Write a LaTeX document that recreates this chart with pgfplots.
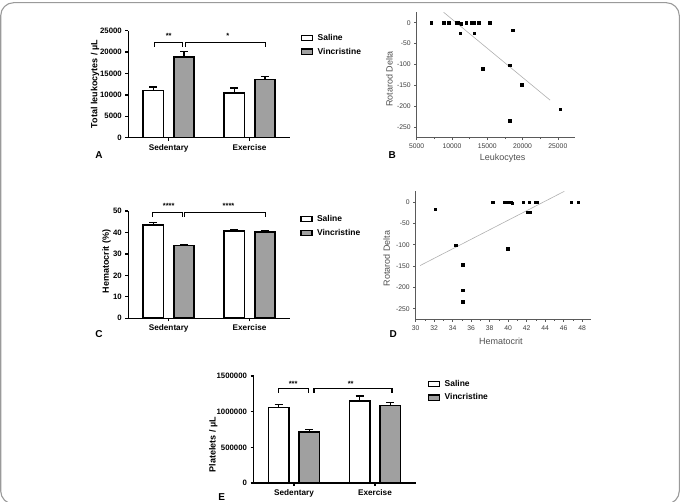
\documentclass[border=0pt]{standalone}
\usepackage{fontspec}
\setmainfont{Liberation Sans}
\usepackage{pgfplots}
\pgfplotsset{compat=1.18}
\definecolor{barfill}{HTML}{A0A0A0}
\definecolor{framecol}{HTML}{9A9A9A}
\definecolor{sctext}{HTML}{3C3C3C}
\definecolor{sclabel}{HTML}{505050}
\definecolor{scaxis}{HTML}{5A5A5A}
\definecolor{regline}{HTML}{B0B0B0}
\tikzset{
  brk/.style={line width=1.2pt, black},
  sig/.style={font=\bfseries\fontsize{7.5}{8}\selectfont},
}
\pgfplotsset{
  boxlegend/.style={legend image code/.code={\draw[##1,line width=1.3pt] (0pt,-2.6pt) rectangle (11pt,2.6pt);}},
  barpanel/.style={
    scale only axis,
    axis lines=left, axis line style={-, line width=1.3pt},
    xmin=-0.5, xmax=1.5, ymin=0,
    xtick={0,1}, xticklabels={Sedentary,Exercise},
    tick align=outside, major tick length=3pt,
    tick style={line width=1.3pt, black},
    yticklabel style={font=\bfseries\fontsize{7.8}{8}\selectfont, /pgf/number format/fixed, /pgf/number format/set thousands separator={}},
    xticklabel style={font=\bfseries\fontsize{8.2}{9}\selectfont},
    ylabel style={font=\bfseries\fontsize{9}{10}\selectfont, anchor=center},
    /pgf/number format/assume math mode=true,
    scaled y ticks=false,
    clip=false,
    legend style={draw=none, fill=none, inner sep=0pt, row sep=3.2pt, column sep=3pt,
      font=\bfseries\fontsize{8.5}{9}\selectfont, anchor=north west,
      nodes={inner sep=1.5pt}},
    legend cell align=left,
    error bars/y dir=plus, error bars/y explicit,
    error bars/error mark options={rotate=90, mark size=4pt, line width=1.4pt, black},
    error bars/error bar style={line width=1.4pt, black},
  },
  sbar/.style={ybar, bar width=0.25, bar shift=0pt, draw=black, line width=1.6pt, fill=white, boxlegend},
  vbar/.style={ybar, bar width=0.25, bar shift=0pt, draw=black, line width=1.6pt, fill=barfill, boxlegend},
  scpanel/.style={
    scale only axis,
    axis lines=left, axis line style={-, scaxis, line width=0.6pt},
    tick align=outside, major tick length=2.5pt, minor tick length=1.5pt,
    tick style={scaxis, line width=0.6pt},
    ticklabel style={font=\fontsize{6.8}{7}\selectfont, text=sctext, /pgf/number format/fixed, /pgf/number format/set thousands separator={}},
    label style={font=\fontsize{9}{10}\selectfont, text=sclabel},
    /pgf/number format/assume math mode=true,
    scaled ticks=false,
    ymin=-275, ymax=25, ytick={-250,-200,-150,-100,-50,0},
  },
}
\begin{document}
\begin{tikzpicture}
\useasboundingbox (0pt,0pt) rectangle (681pt,502pt);
\draw[framecol, line width=1.1pt, rounded corners=13pt] (0.7pt,-2pt) rectangle (679.3pt,499.3pt);

% ---------------- Panel A ----------------
\begin{axis}[barpanel, at={(128.3pt,364.3pt)}, anchor=south west,
  width=161.7pt, height=107pt, ymax=25000,
  ytick={0,5000,10000,15000,20000,25000},
  ylabel={Total leukocytes / µL},
  ylabel style={at={(axis description cs:-0.206,0.5)}},
  legend style={at={(axis description cs:1.066,0.985)}}]
\addplot[sbar] coordinates {(-0.19,10980) +- (0,850) (0.81,10450) +- (0,1150)};
\addplot[vbar] coordinates {(0.19,18860) +- (0,1330) (1.19,13640) +- (0,610)};
\legend{Saline,Vincristine}
\draw[brk] (axis cs:-0.18,21260) |- (axis cs:0.17,22290) -- (axis cs:0.17,21260);
\draw[brk] (axis cs:0.21,21260) |- (axis cs:1.2,22290) -- (axis cs:1.2,21260);
\node[sig] at (axis cs:0.0,23700) {**};
\node[sig] at (axis cs:0.73,23700) {*};
\end{axis}

% ---------------- Panel C ----------------
\begin{axis}[barpanel, at={(128.3pt,183.7pt)}, anchor=south west,
  width=161.7pt, height=107.3pt, ymax=50,
  ytick={0,10,20,30,40,50},
  ylabel={Hematocrit (\%)},
  ylabel style={at={(axis description cs:-0.134,0.53)}},
  legend style={at={(axis description cs:1.062,0.977)}}]
\addplot[sbar] coordinates {(-0.19,43.5) +- (0,1.0) (0.81,40.7) +- (0,0.5)};
\addplot[vbar] coordinates {(0.19,33.9) +- (0,0.6) (1.19,40.1) +- (0,0.6)};
\legend{Saline,Vincristine}
\draw[brk] (axis cs:-0.196,47.3) |- (axis cs:0.172,49.2) -- (axis cs:0.172,47.3);
\draw[brk] (axis cs:0.197,47.3) |- (axis cs:1.2,49.2) -- (axis cs:1.2,47.3);
\node[sig] at (axis cs:0.0,52.4) {****};
\node[sig] at (axis cs:0.74,52.4) {****};
\end{axis}

% ---------------- Panel E ----------------
\begin{axis}[barpanel, at={(253.5pt,19pt)}, anchor=south west,
  width=162pt, height=107pt, ymax=1500000,
  ytick={0,500000,1000000,1500000},
  ylabel={Platelets / µL},
  ylabel style={at={(axis description cs:-0.248,0.36)}},
  legend style={at={(axis description cs:1.075,0.979)}}]
\addplot[sbar] coordinates {(-0.19,1061000) +- (0,42000) (0.81,1149500) +- (0,70000)};
\addplot[vbar] coordinates {(0.19,719000) +- (0,28000) (1.19,1089000) +- (0,42000)};
\legend{Saline,Vincristine}
\draw[brk] (axis cs:-0.194,1261700) |- (axis cs:0.177,1327600) -- (axis cs:0.177,1261700);
\draw[brk] (axis cs:0.247,1261700) |- (axis cs:1.21,1327600) -- (axis cs:1.21,1261700);
\node[sig] at (axis cs:-0.01,1392000) {***};
\node[sig] at (axis cs:0.7,1392000) {**};
\end{axis}

% ---------------- Panel B ----------------
\begin{axis}[scpanel, at={(416.7pt,364.3pt)}, anchor=south west,
  width=158.1pt, height=125.4pt,
  xmin=5000, xmax=27400, xtick={5000,10000,15000,20000,25000},
  minor x tick num=1,
  xlabel={Leukocytes}, ylabel={Rotarod Delta},
  xlabel style={at={(axis description cs:0.544,-0.165)}, anchor=center},
  ylabel style={at={(axis description cs:-0.173,0.467)}, anchor=center}]
\addplot[regline, line width=0.6pt] coordinates {(8820,25) (23900,-185.2)};
\addplot[only marks, mark=square*, mark size=1.25pt, black] coordinates {
(7080,0) (8820,0) (9530,0) (10620,0) (10850,0) (11280,-2) (11190,-25)
(11990,0) (12790,0) (13070,0) (13120,-25) (13780,0) (14350,-110)
(15340,0) (18170,-102) (18600,-18) (18170,-234) (19870,-148) (25300,-207)};
\end{axis}

% ---------------- Panel D ----------------
\begin{axis}[scpanel, at={(415.7pt,182.6pt)}, anchor=south west,
  width=175.75pt, height=128.1pt,
  xmin=30, xmax=49, xtick={30,32,34,36,38,40,42,44,46,48},
  minor x tick num=1,
  xlabel={Hematocrit}, ylabel={Rotarod Delta},
  xlabel style={at={(axis description cs:0.484,-0.174)}, anchor=center},
  ylabel style={at={(axis description cs:-0.165,0.477)}, anchor=center}]
\addplot[regline, line width=0.6pt] coordinates {(30.47,-149) (46.07,25)};
\addplot[only marks, mark=square*, mark size=1.25pt, black] coordinates {
(32.13,-17) (34.32,-101) (35.08,-147) (35.08,-207) (35.08,-233)
(38.32,0) (39.55,0) (39.95,0) (40.31,0) (40.45,-3) (39.95,-109)
(41.64,0) (42.04,-24) (42.25,0) (42.32,-24) (42.97,0) (43.08,0)
(46.79,0) (47.59,0)};
\end{axis}

% panel letters
\node[font=\bfseries\fontsize{10}{12}\selectfont] at (99pt,347pt) {A};
\node[font=\bfseries\fontsize{10}{12}\selectfont] at (392.3pt,347pt) {B};
\node[font=\bfseries\fontsize{10}{12}\selectfont] at (99pt,167.7pt) {C};
\node[font=\bfseries\fontsize{10}{12}\selectfont] at (393.3pt,167.7pt) {D};
\node[font=\bfseries\fontsize{10}{12}\selectfont] at (221.7pt,4.5pt) {E};
\end{tikzpicture}
\end{document}
